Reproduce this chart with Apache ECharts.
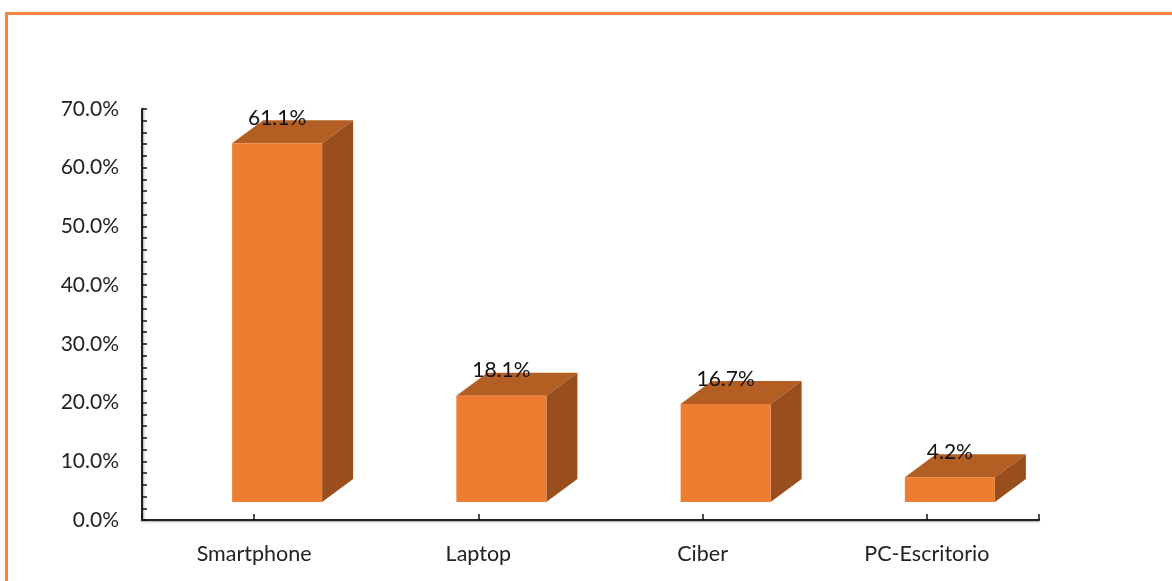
<!DOCTYPE html>
<html>
<head>
<meta charset="utf-8">
<style>
html,body{margin:0;padding:0;background:#fff;overflow:hidden}
#frame{position:absolute;left:5px;top:12px;width:1167px;height:569px;border-top:3px solid #F5873A;border-left:3px solid #F5873A;box-sizing:border-box}
#c{position:absolute;left:0;top:0;width:1172px;height:581px}
</style>
<script src="https://cdn.jsdelivr.net/npm/echarts@6/dist/echarts.min.js"></script>
</head>
<body>
<div id="frame"></div>
<div id="c"></div>
<script>
const categories = ['Smartphone', 'Laptop', 'Ciber', 'PC-Escritorio'];
const values = [61.1, 18.1, 16.7, 4.2];
const font = 'Lato, Carlito, sans-serif';

const chart = echarts.init(document.getElementById('c'), null, {renderer: 'canvas'});

function renderBox(params, api) {
  const p = api.coord([api.value(0), api.value(1)]);
  const lift = 18, left = p[0] - 22, w = 90, dx = 31, dy = 23;
  const top = p[1] - lift;
  const base = api.coord([api.value(0), 0])[1] - lift;
  const right = left + w;
  return {
    type: 'group',
    children: [
      {type: 'polygon', shape: {points: [[left, top], [right, top], [right + dx, top - dy], [left + dx, top - dy]]},
       style: {fill: '#B35F24'}},
      {type: 'polygon', shape: {points: [[right, top], [right + dx, top - dy], [right + dx, base - dy], [right, base]]},
       style: {fill: '#984F1D'}},
      {type: 'rect', shape: {x: left, y: top, width: w, height: base - top},
       style: {fill: '#ED7D31'}},
      {type: 'text', z2: 10, style: {x: left + w / 2, y: top - 25, text: api.value(1).toFixed(1) + '%',
        font: '21px ' + font, fill: '#111', align: 'center', verticalAlign: 'middle'}}
    ]
  };
}

chart.setOption({
  animation: false,
  backgroundColor: 'transparent',
  grid: {left: 142, right: 133, top: 109, bottom: 61},
  xAxis: [
    {type: 'category', data: categories,
     axisLine: {lineStyle: {color: '#222', width: 2, shadowColor: 'rgba(0,0,0,0.35)', shadowBlur: 2, shadowOffsetY: 1}},
     axisTick: {show: true, alignWithLabel: true, inside: true, length: 6, lineStyle: {color: '#111', width: 1.5}},
     axisLabel: {color: '#222', fontFamily: font, fontSize: 21.5, margin: 23}},
    {type: 'category', data: [''], position: 'bottom',
     axisLine: {show: false},
     axisTick: {show: true, inside: true, length: 6, lineStyle: {color: '#111', width: 1.5}},
     axisLabel: {show: false}}
  ],
  yAxis: {
    type: 'value', min: 0, max: 70, interval: 10,
    axisLine: {show: true, lineStyle: {color: '#222', width: 2, shadowColor: 'rgba(0,0,0,0.35)', shadowBlur: 2, shadowOffsetX: 1}},
    axisTick: {show: true, inside: true, length: 5, lineStyle: {color: '#111', width: 1.5}},
    minorTick: {show: true, splitNumber: 5, length: 5, lineStyle: {color: '#111', width: 1.5}},
    splitLine: {show: false},
    minorSplitLine: {show: false},
    axisLabel: {color: '#222', fontFamily: font, fontSize: 21, margin: 23, padding: [3, 0, 0, 0],
      formatter: v => v.toFixed(1) + '%'}
  },
  series: [{
    type: 'custom',
    renderItem: renderBox,
    encode: {x: 0, y: 1},
    data: categories.map((c, i) => [i, values[i]]),
    clip: false
  }]
});
</script>
</body>
</html>
